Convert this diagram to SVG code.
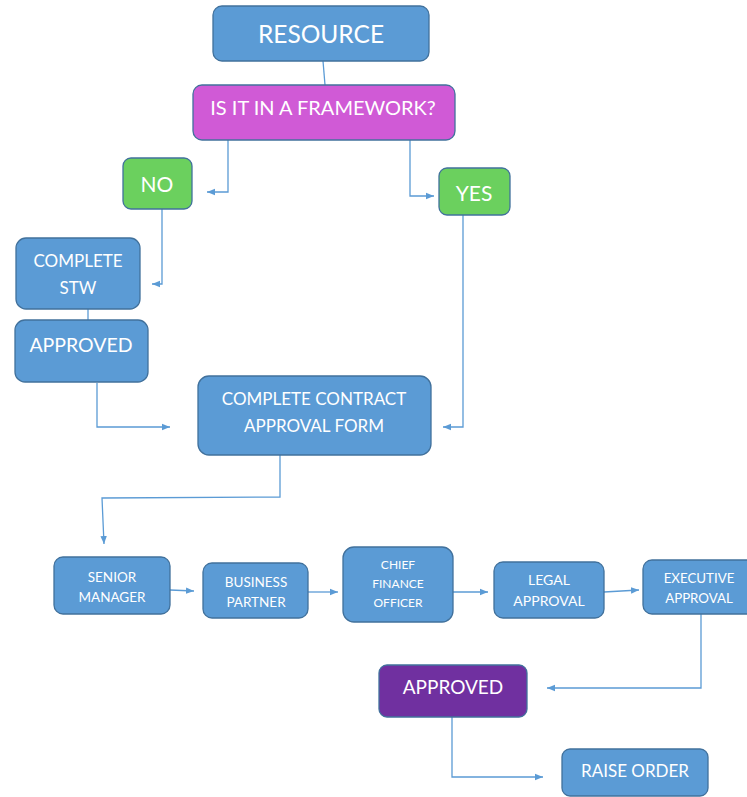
<svg xmlns="http://www.w3.org/2000/svg" width="747" height="797" viewBox="0 0 747 797">
<defs>
<style>
.box{fill:#5B9BD5;stroke:#41719C;stroke-width:1.3}
.grn{fill:#6BD05E;stroke:#41719C;stroke-width:1.3}
.mag{fill:#D05AD6;stroke:#41719C;stroke-width:1.3}
.pur{fill:#7030A0;stroke:#41719C;stroke-width:1.3}
text{font-family:Lato,"Open Sans","Liberation Sans",sans-serif;fill:#FFFFFF;text-anchor:middle}
.c{fill:none;stroke:#5B9BD5;stroke-width:1.3}
</style>
<marker id="ah" viewBox="0 0 10 10" refX="10" refY="5" markerWidth="8" markerHeight="8" orient="auto" markerUnits="userSpaceOnUse">
<path d="M0,1 L10,5 L0,9 z" fill="#5B9BD5"/>
</marker>
</defs>
<rect width="747" height="797" fill="#FFFFFF"/>
<g id="connectors">
<path class="c" d="M323,61 L325,85"/>
<path class="c" d="M228,140 V192 H207" marker-end="url(#ah)"/>
<path class="c" d="M410,140 V196 H434" marker-end="url(#ah)"/>
<path class="c" d="M162,209 V284 H152" marker-end="url(#ah)"/>
<path class="c" d="M88,309 V320"/>
<path class="c" d="M97,383 V427 H170" marker-end="url(#ah)"/>
<path class="c" d="M463,215 V427 H443" marker-end="url(#ah)"/>
<path class="c" d="M280,455 V497 L102,498 L104,544" marker-end="url(#ah)"/>
<path class="c" d="M170,590 L194,591" marker-end="url(#ah)"/>
<path class="c" d="M308,592 H338" marker-end="url(#ah)"/>
<path class="c" d="M453,592 H488" marker-end="url(#ah)"/>
<path class="c" d="M604,592 L639,590" marker-end="url(#ah)"/>
<path class="c" d="M701,614 V688 H547" marker-end="url(#ah)"/>
<path class="c" d="M452,717 V777 H543" marker-end="url(#ah)"/>
</g>
<g id="resource">
<rect class="box" x="213" y="6" width="216" height="55" rx="9"/>
<text x="321" y="43" font-size="24.5">RESOURCE</text>
</g>
<g id="framework">
<rect class="mag" x="193" y="85" width="262" height="55" rx="9"/>
<text x="323" y="115" font-size="20">IS IT IN A FRAMEWORK?</text>
</g>
<g id="no">
<rect class="grn" x="123" y="158" width="69" height="51" rx="8"/>
<text x="157" y="192" font-size="21">NO</text>
</g>
<g id="yes">
<rect class="grn" x="439" y="168" width="71" height="47" rx="8"/>
<text x="474" y="201" font-size="21">YES</text>
</g>
<g id="complete-stw">
<rect class="box" x="16" y="238" width="124" height="71" rx="10"/>
<text x="78" y="267" font-size="17">COMPLETE</text>
<text x="78" y="294" font-size="17">STW</text>
</g>
<g id="approved-stw">
<rect class="box" x="15" y="320" width="133" height="62" rx="10"/>
<text x="81" y="352" font-size="19.5">APPROVED</text>
</g>
<g id="contract-form">
<rect class="box" x="198" y="376" width="233" height="79" rx="11"/>
<text x="314" y="405" font-size="17">COMPLETE CONTRACT</text>
<text x="314" y="432" font-size="17">APPROVAL FORM</text>
</g>
<g id="senior-manager">
<rect class="box" x="54" y="557" width="116" height="57" rx="9"/>
<text x="112" y="582" font-size="13.5">SENIOR</text>
<text x="112" y="602" font-size="13.5">MANAGER</text>
</g>
<g id="business-partner">
<rect class="box" x="203" y="563" width="105" height="55" rx="9"/>
<text x="256" y="587" font-size="13.5">BUSINESS</text>
<text x="256" y="607" font-size="13.5">PARTNER</text>
</g>
<g id="cfo">
<rect class="box" x="343" y="547" width="110" height="75" rx="11"/>
<text x="398" y="569" font-size="12">CHIEF</text>
<text x="398" y="588" font-size="12">FINANCE</text>
<text x="398" y="607" font-size="12">OFFICER</text>
</g>
<g id="legal">
<rect class="box" x="494" y="562" width="110" height="56" rx="9"/>
<text x="549" y="585" font-size="14">LEGAL</text>
<text x="549" y="606" font-size="14">APPROVAL</text>
</g>
<g id="executive">
<rect class="box" x="643" y="560" width="115" height="54" rx="9"/>
<text x="699" y="583" font-size="13.3">EXECUTIVE</text>
<text x="699" y="603" font-size="13.3">APPROVAL</text>
</g>
<g id="approved-final">
<rect class="pur" x="379" y="665" width="148" height="52" rx="8"/>
<text x="453" y="694" font-size="19">APPROVED</text>
</g>
<g id="raise-order">
<rect class="box" x="562" y="749" width="146" height="47" rx="8"/>
<text x="635" y="777" font-size="17">RAISE ORDER</text>
</g>
</svg>
